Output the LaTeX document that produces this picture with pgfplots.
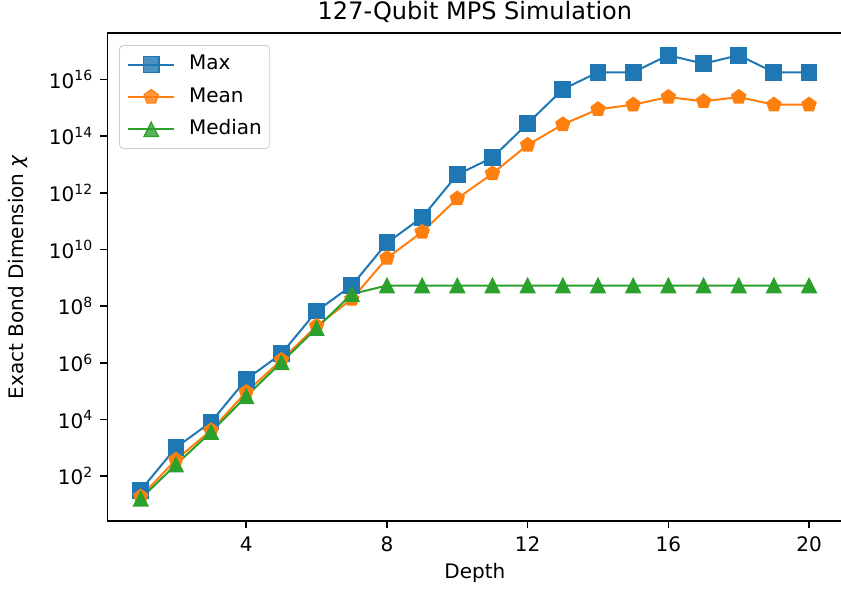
\documentclass[border=0pt]{standalone}
\usepackage{fontspec}
\setmainfont{DejaVu Sans}
\usepackage{pgfplots}
\pgfplotsset{compat=1.18}
\usetikzlibrary{plotmarks}

\definecolor{tabblue}{HTML}{1F77B4}
\definecolor{taborange}{HTML}{FF7F0E}
\definecolor{tabgreen}{HTML}{2CA02C}

\begin{document}
\begin{tikzpicture}
\begin{axis}[
    scale only axis,
    width=367.5pt, height=243.9pt,
    ymode=log,
    xmin=0.05, xmax=20.95,
    ymin=2.64, ymax=4.37e17,
    xtick={4,8,12,16,20},
    ytick={1e2,1e4,1e6,1e8,1e10,1e12,1e14,1e16},
    yticklabels={10\textsuperscript{2},10\textsuperscript{4},10\textsuperscript{6},10\textsuperscript{8},
                 10\textsuperscript{10},10\textsuperscript{12},10\textsuperscript{14},10\textsuperscript{16}},
    yminorticks=false,
    xtick pos=bottom, ytick pos=left,
    tick align=outside,
    major tick length=3.5pt,
    every tick/.style={black, line width=0.8pt},
    axis line style={line width=0.8pt},
    /pgf/number format/assume math mode=true,
    xticklabel style={yshift=-1pt},
    title={127-Qubit MPS Simulation},
    every axis title shift=0pt,
    title style={font=\fontsize{12}{14}\selectfont, at={(0.5,1.0267)}, anchor=base},
    xlabel={Depth},
    xlabel style={at={(0.5,-0.1175)}, anchor=base},
    ylabel={Exact Bond Dimension \textit{χ}},
    ylabel style={at={(-0.1215,0.5)}, anchor=center},
    legend cell align=left,
    legend style={at={(0.0159,0.9754)}, anchor=north west,
        draw=black!20, rounded corners=2pt, fill=white, fill opacity=0.8, text opacity=1,
        inner xsep=4pt, inner ysep=4.8pt, row sep=6.7pt,
        nodes={inner sep=0pt, text height=7.3pt, text depth=2.2pt},
        /tikz/every odd column/.append style={column sep=7pt},
        /tikz/every even column/.append style={column sep=2pt}},
    legend image code/.code={
        \draw[mark repeat=2, mark phase=2, #1] plot coordinates {(0pt,0pt) (11.4pt,0pt) (22.8pt,0pt)};
    },
]
\addplot[tabblue, line width=1pt, mark=square*,
    mark options={solid, fill=tabblue, draw=tabblue, line width=0.6pt}, mark size=3.9pt]
coordinates {
    (1, 32) (2, 1024) (3, 8192) (4, 262144) (5, 2097152)
    (6, 67108864) (7, 536870912) (8, 1.718e10) (9, 1.374e11) (10, 4.398e12)
    (11, 1.759e13) (12, 2.815e14) (13, 4.504e15) (14, 1.801e16) (15, 1.801e16)
    (16, 7.206e16) (17, 3.603e16) (18, 7.206e16) (19, 1.801e16) (20, 1.801e16)
};
\addlegendentry{Max}
\addplot[taborange, line width=1pt, mark=pentagon*,
    mark options={solid, fill=taborange, draw=taborange, line width=0.6pt}, mark size=3.7pt]
coordinates {
    (1, 19) (2, 380) (3, 4170) (4, 9.3e4) (5, 1.26e6)
    (6, 2.0e7) (7, 1.78e8) (8, 5.0e9) (9, 4.17e10) (10, 6.3e11)
    (11, 4.8e12) (12, 4.9e13) (13, 2.6e14) (14, 8.9e14) (15, 1.29e15)
    (16, 2.4e15) (17, 1.7e15) (18, 2.4e15) (19, 1.29e15) (20, 1.29e15)
};
\addlegendentry{Mean}
\addplot[tabgreen, line width=1pt, mark=triangle*,
    mark options={solid, fill=tabgreen, draw=tabgreen, line width=0.6pt, yshift=-1.2pt, yscale=1.15}, mark size=4.2pt]
coordinates {
    (1, 16) (2, 256) (3, 3600) (4, 65536) (5, 1048576)
    (6, 16777216) (7, 268435456) (8, 536870912) (9, 536870912) (10, 536870912)
    (11, 536870912) (12, 536870912) (13, 536870912) (14, 536870912) (15, 536870912)
    (16, 536870912) (17, 536870912) (18, 536870912) (19, 536870912) (20, 536870912)
};
\addlegendentry{Median}
\coordinate (BL) at (rel axis cs:-0.146,-0.1422);
\coordinate (TR) at (rel axis cs:0.998,1.0677);
\end{axis}
\pgfresetboundingbox
\useasboundingbox (BL) rectangle (TR);
\end{tikzpicture}
\end{document}
